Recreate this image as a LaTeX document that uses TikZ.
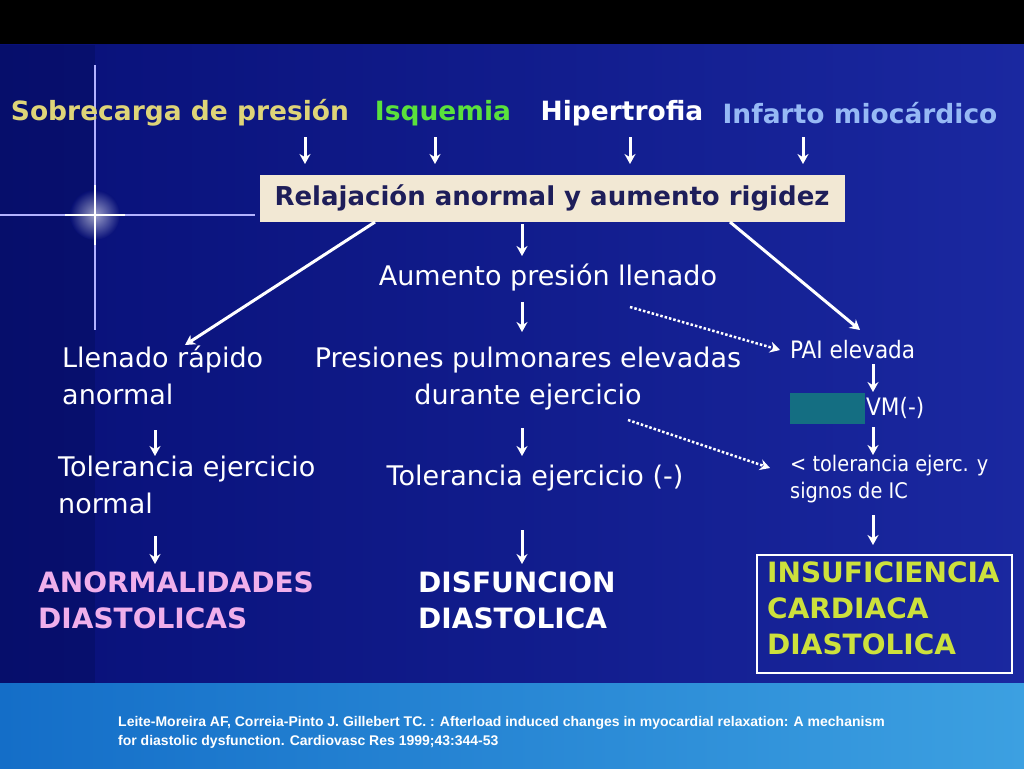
\documentclass[tikz,border=0pt]{standalone}
\usepackage{fontspec}
\setmainfont{DejaVu Sans}
\newfontfamily\citefnt{Liberation Sans}
\newfontfamily\condfnt{DejaVu Sans Condensed}
\usetikzlibrary{arrows.meta}
\definecolor{bgA}{RGB}{8,16,120}
\definecolor{bgB}{RGB}{26,40,160}
\definecolor{botA}{RGB}{20,110,200}
\definecolor{botB}{RGB}{60,160,225}
\definecolor{beige}{RGB}{242,232,212}
\definecolor{navytxt}{RGB}{30,30,90}
\definecolor{yel}{RGB}{222,212,120}
\definecolor{grn}{RGB}{90,225,60}
\definecolor{lblue}{RGB}{150,185,245}
\definecolor{pinkc}{RGB}{240,175,235}
\definecolor{ygreen}{RGB}{205,225,60}
\definecolor{teal}{RGB}{20,110,130}
\begin{document}
\begin{tikzpicture}[x=1pt,y=-1pt,
  arr/.style={white,line width=3pt,-{Stealth[length=10pt,width=11pt]}},
  dotarr/.style={white,line width=2.5pt,dotted,-{Stealth[length=10pt,width=11pt]}},
  big/.style={font=\fontsize{26.5}{30}\selectfont\bfseries,inner sep=0pt},
  mid/.style={font=\fontsize{27}{37}\selectfont,inner sep=0pt,text=white,align=left},
  sml/.style={font=\fontsize{24}{26}\selectfont,inner sep=0pt,text=white,align=left},
  res/.style={font=\fontsize{28}{36}\selectfont\bfseries,inner sep=0pt,align=left}]
\useasboundingbox (0,0) rectangle (1024,768);
\fill[black] (0,0) rectangle (1024,45);
\shade[left color=bgA,right color=bgB] (0,45) rectangle (1024,683);
\fill[bgA!80!black,opacity=0.5] (0,45) rectangle (95,683);
\shade[left color=botA,right color=botB] (0,683) rectangle (1024,768);
% star
\shade[inner color=white,outer color=bgA,opacity=0.6] (95,215) circle (25);
\draw[white!70!blue,line width=1.5pt] (0,215) -- (255,215);
\draw[white!70!blue,line width=1.5pt] (95,65) -- (95,330);
\draw[white,line width=2pt] (65,215) -- (125,215) (95,185) -- (95,245);
% top
\node[big,text=yel] (t1) at (180,113) {Sobrecarga de presión};
\node[big,text=grn] (t2) at (443,113) {Isquemia};
\node[big,text=white] (t3) at (622,113) {Hipertrofia};
\node[big,text=lblue] (t4) at (860,113) {Infarto miocárdico};
\node[big,fill=beige,text=navytxt,minimum width=585pt,minimum height=47pt,font=\fontsize{26}{30}\selectfont\bfseries] (rel) at (552,198) {Relajación anormal y aumento rigidez};
\foreach \x in {305,435,630,803}{\draw[arr] (\x,137) -- (\x,164);}
\node[mid] (aum) at (548,278) {Aumento presión llenado};
\node[sml,anchor=west,font=\condfnt\fontsize{24}{26}\selectfont] (pai) at (790,350) {PAI elevada};
\node[mid,anchor=north west] (lle) at (62,346) {Llenado rápido\\anormal};
\node[mid,align=center] (pres) at (528,379) {Presiones pulmonares elevadas\\durante ejercicio};
\node[fill=teal,minimum width=75pt,minimum height=31pt,inner sep=0pt] (tb) at (827,408) {};
\node[sml,anchor=west,font=\condfnt\fontsize{24}{26}\selectfont] (vm) at (866,408) {VM(-)};
\node[sml,anchor=north west,font=\condfnt\fontsize{21.5}{27}\selectfont] (tol3) at (790,455) {< tolerancia ejerc. y\\signos de IC};
\node[mid,anchor=north west] (tol1) at (58,456) {Tolerancia ejercicio\\normal};
\node[mid] (tol2) at (535,478) {Tolerancia ejercicio (-)};
\node[res,text=pinkc,anchor=north west] (an) at (38,572) {ANORMALIDADES\\DIASTOLICAS};
\node[res,text=white,anchor=north west] (dis) at (418,572) {DISFUNCION\\DIASTOLICA};
\node[draw=white,line width=2.5pt,minimum width=255pt,minimum height=118pt] (box) at (884.5,614) {};
\node[res,text=ygreen,anchor=north west] (ic) at (767,562) {INSUFICIENCIA\\CARDIACA\\DIASTOLICA};
% arrows
\draw[arr] (375,222) -- (185,345);
\draw[arr] (522,224) -- (522,256);
\draw[arr] (730,222) -- (860,330);
\draw[arr] (522,302) -- (522,332);
\draw[dotarr] (630,307) -- (780,350);
\draw[arr] (873,364) -- (873,392);
\draw[arr] (873,427) -- (873,455);
\draw[dotarr] (628,420) -- (770,468);
\draw[arr] (155,430) -- (155,456);
\draw[arr] (522,428) -- (522,456);
\draw[arr] (155,536) -- (155,564);
\draw[arr] (522,530) -- (522,564);
\draw[arr] (873,515) -- (873,545);
\node[anchor=north west,align=left,text=white,inner sep=0pt,font=\citefnt\fontsize{14}{19}\selectfont\bfseries] (cit) at (118,716) {Leite-Moreira AF, Correia-Pinto J. Gillebert TC. : Afterload induced changes in myocardial relaxation: A mechanism\\for diastolic dysfunction. Cardiovasc Res 1999;43:344-53};
\end{tikzpicture}
\end{document}
